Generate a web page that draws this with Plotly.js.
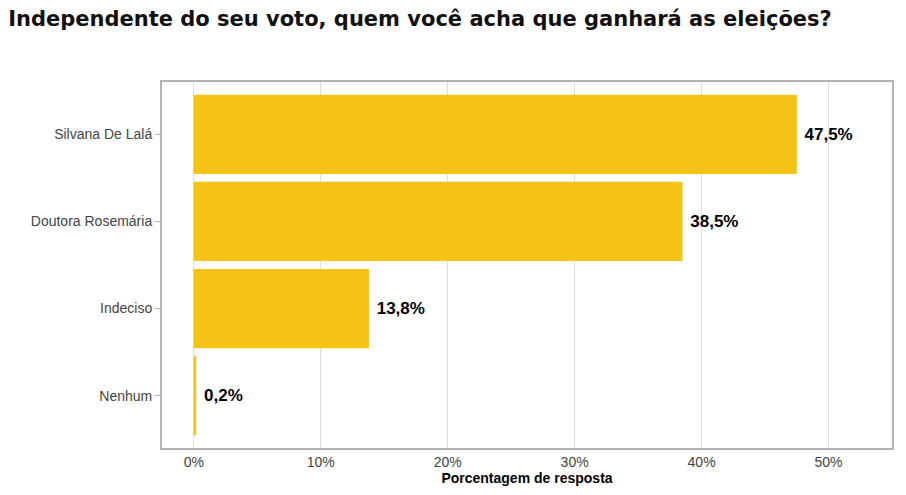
<!DOCTYPE html>
<html>
<head>
<meta charset="utf-8">
<script src="https://cdn.plot.ly/plotly-3.0.1.min.js"></script>
<style>
  body { margin: 0; background: #fff; }
  #chart { width: 906px; height: 495px; }
</style>
</head>
<body>
<div id="chart"></div>
<script>
// respostas (percentual)
var categorias = ['Silvana De Lalá', 'Doutora Rosemária', 'Indeciso', 'Nenhum'];
var valores = [47.5, 38.5, 13.8, 0.2];
var ticks_x = [0, 10, 20, 30, 40, 50];

var trace = {
  type: 'bar',
  orientation: 'h',
  x: valores,
  y: categorias,
  marker: { color: '#F5C316' },
  texttemplate: '\u00a0<b>%{x:.1f}%</b>',
  textposition: 'outside',
  cliponaxis: false,
  textfont: { family: 'Liberation Sans, Arial, sans-serif', size: 17, color: '#000' },
  hoverinfo: 'none'
};

var layout = {
  width: 906,
  height: 495,
  separators: ',.',
  margin: { l: 162, r: 14, t: 82, b: 47 },
  paper_bgcolor: '#fff',
  plot_bgcolor: '#fff',
  bargap: 0.09,
  showlegend: false,
  font: { family: 'Liberation Sans, Arial, sans-serif', color: '#444' },
  title: {
    text: '<b>Independente do seu voto, quem você acha que ganhará as eleições?</b>',
    x: 0.009,
    xanchor: 'left',
    y: 0.963,
    yanchor: 'middle',
    font: { family: 'DejaVu Sans, sans-serif', size: 21, color: '#111' }
  },
  xaxis: {
    range: [-2.5, 55],
    tickvals: ticks_x,
    ticktext: ticks_x.map(function (v) { return v + '%'; }),
    showgrid: true,
    gridcolor: '#dcdcdc',
    zeroline: false,
    showline: true,
    linecolor: '#b4b4b4',
    linewidth: 2,
    mirror: true,
    ticks: '',
    tickfont: { size: 14, color: '#444' },
    title: {
      text: '<b>Porcentagem de resposta</b>',
      standoff: 4,
      font: { size: 14, color: '#000' }
    }
  },
  yaxis: {
    range: [3.6, -0.6],
    showline: true,
    linecolor: '#b4b4b4',
    linewidth: 2,
    mirror: true,
    ticks: 'outside',
    ticklen: 5,
    tickcolor: '#b4b4b4',
    tickfont: { size: 14, color: '#444' },
    ticklabelstandoff: 0
  }
};

Plotly.newPlot('chart', [trace], layout, { displayModeBar: false, staticPlot: true });
</script>
</body>
</html>
